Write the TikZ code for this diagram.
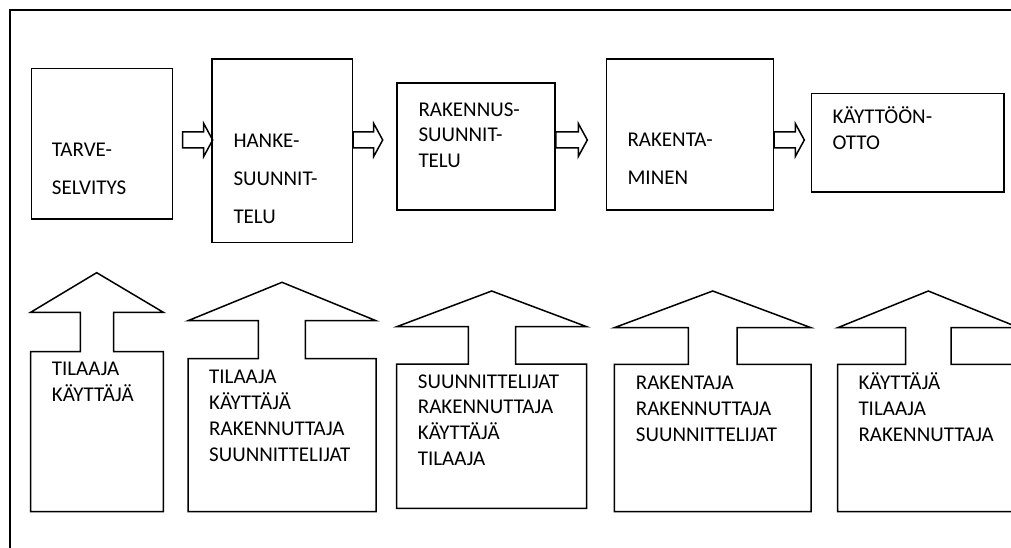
\documentclass[tikz,border=0pt]{standalone}
\usepackage{fontspec}
\setmainfont{Carlito}
\usetikzlibrary{calc}
\tikzset{
  stagebox/.style={draw, line width=1.5pt, rectangle, inner sep=0pt, anchor=north west},
  label/.style={anchor=base west, inner sep=0pt, align=left},
  barrow/.style={draw, line width=1.5pt, line join=miter},
  upshape/.style={draw, line width=1.5pt, line join=miter},
  frame/.style={draw, line width=1.6pt}
}
\newcommand\fsz[1]{\fontsize{21}{#1}\selectfont}
% block arrow from start coordinate #1 to tip coordinate #2
\newcommand\blockarr[2]{%
  \draw[barrow] ($(#1)+(0,-8)$) -- ($(#2)+(-9,-8)$) -- ($(#2)+(-9,-16.5)$) -- (#2)
    -- ($(#2)+(-9,16.5)$) -- ($(#2)+(-9,8)$) -- ($(#1)+(0,8)$) -- cycle;}
% up-arrow house shape: ax ay hb hl hr sl sr bt bb
\newcommand\upbox[9]{%
  \draw[upshape] (#4,#3) -- (#1,#2) -- (#5,#3) -- (#7,#3) -- (#7,#8) -- (#5,#8)
    -- (#5,#9) -- (#4,#9) -- (#4,#8) -- (#6,#8) -- (#6,#3) -- cycle;}
\begin{document}
\begin{tikzpicture}[x=1pt,y=-1pt]
\useasboundingbox (0,0) rectangle (1011,548);
\clip (0,0) rectangle (1011,548);
\draw[frame] (10,560) -- (10,10) -- (1020,10);

% top stage boxes
\node[stagebox, minimum width=141pt, minimum height=150.6pt] (b1) at (30.7,67.7) {};
\node[stagebox, minimum width=140.7pt, minimum height=183.4pt] (b2) at (211,58.3) {};
\node[stagebox, minimum width=158.3pt, minimum height=126.7pt] (b3) at (396,82.3) {};
\node[stagebox, minimum width=167pt, minimum height=150.7pt] (b4) at (605.7,58.3) {};
\node[stagebox, minimum width=192.6pt, minimum height=98.3pt] (b5) at (810.7,92.7) {};

% labels: anchor is baseline of the last line
\node[label, font=\fsz{38}] (t1) at (51.7,194) {TARVE-\\SELVITYS};
\node[label, font=\fsz{38}] (t2) at (233.3,223.3) {HANKE-\\SUUNNIT-\\TELU};
\node[label, font=\fsz{25.3}] (t3) at (418.3,167.3) {RAKENNUS-\\SUUNNIT-\\TELU};
\node[label, font=\fsz{38.3}] (t4) at (627.3,185) {RAKENTA-\\MINEN};
\node[label, font=\fsz{26}] (t5) at (832.3,150) {KÄYTTÖÖN-\\OTTO};

% block arrows between stages
\coordinate (a1s) at ($(b1.east |- 0,140)+(9.3,0)$);
\coordinate (a1t) at ($(b2.west |- 0,140)+(1.7,0)$);
\coordinate (a2s) at (b2.east |- 0,140);
\coordinate (a2t) at ($(b3.west |- 0,140)+(-13.3,0)$);
\coordinate (a3s) at (b3.east |- 0,140);
\coordinate (a3t) at ($(b4.west |- 0,140)+(-18.4,0)$);
\coordinate (a4s) at (b4.east |- 0,140);
\coordinate (a4t) at ($(b5.west |- 0,140)+(-6.4,0)$);
\blockarr{a1s}{a1t}
\blockarr{a2s}{a2t}
\blockarr{a3s}{a3t}
\blockarr{a4s}{a4t}

% bottom up-arrow shapes
\upbox{96.7}{272.7}{312.3}{30.7}{163.3}{80.3}{113.7}{351.7}{511.7}
\upbox{282}{282.3}{320.7}{188}{376}{258.3}{305.3}{358.7}{511.7}
\upbox{491.7}{291}{326.7}{396.7}{586.7}{468.3}{515.5}{364}{508.3}
\upbox{712.7}{291}{327.7}{614.3}{811}{688.3}{737}{364.3}{511.7}
\upbox{928.3}{291}{327.7}{837.7}{1019}{905.7}{951}{364.3}{511.7}

\node[label, font=\fsz{25.5}] (p1) at (51.7,401.2) {TILAAJA\\KÄYTTÄJÄ};
\node[label, font=\fsz{26}] (p2) at (209,461) {TILAAJA\\KÄYTTÄJÄ\\RAKENNUTTAJA\\SUUNNITTELIJAT};
\node[label, font=\fsz{25.7}] (p3) at (417.7,465.1) {SUUNNITTELIJAT\\RAKENNUTTAJA\\KÄYTTÄJÄ\\TILAAJA};
\node[label, font=\fsz{26}] (p4) at (635.7,441) {RAKENTAJA\\RAKENNUTTAJA\\SUUNNITTELIJAT};
\node[label, font=\fsz{26}] (p5) at (858.3,441) {KÄYTTÄJÄ\\TILAAJA\\RAKENNUTTAJA};
\end{tikzpicture}
\end{document}
